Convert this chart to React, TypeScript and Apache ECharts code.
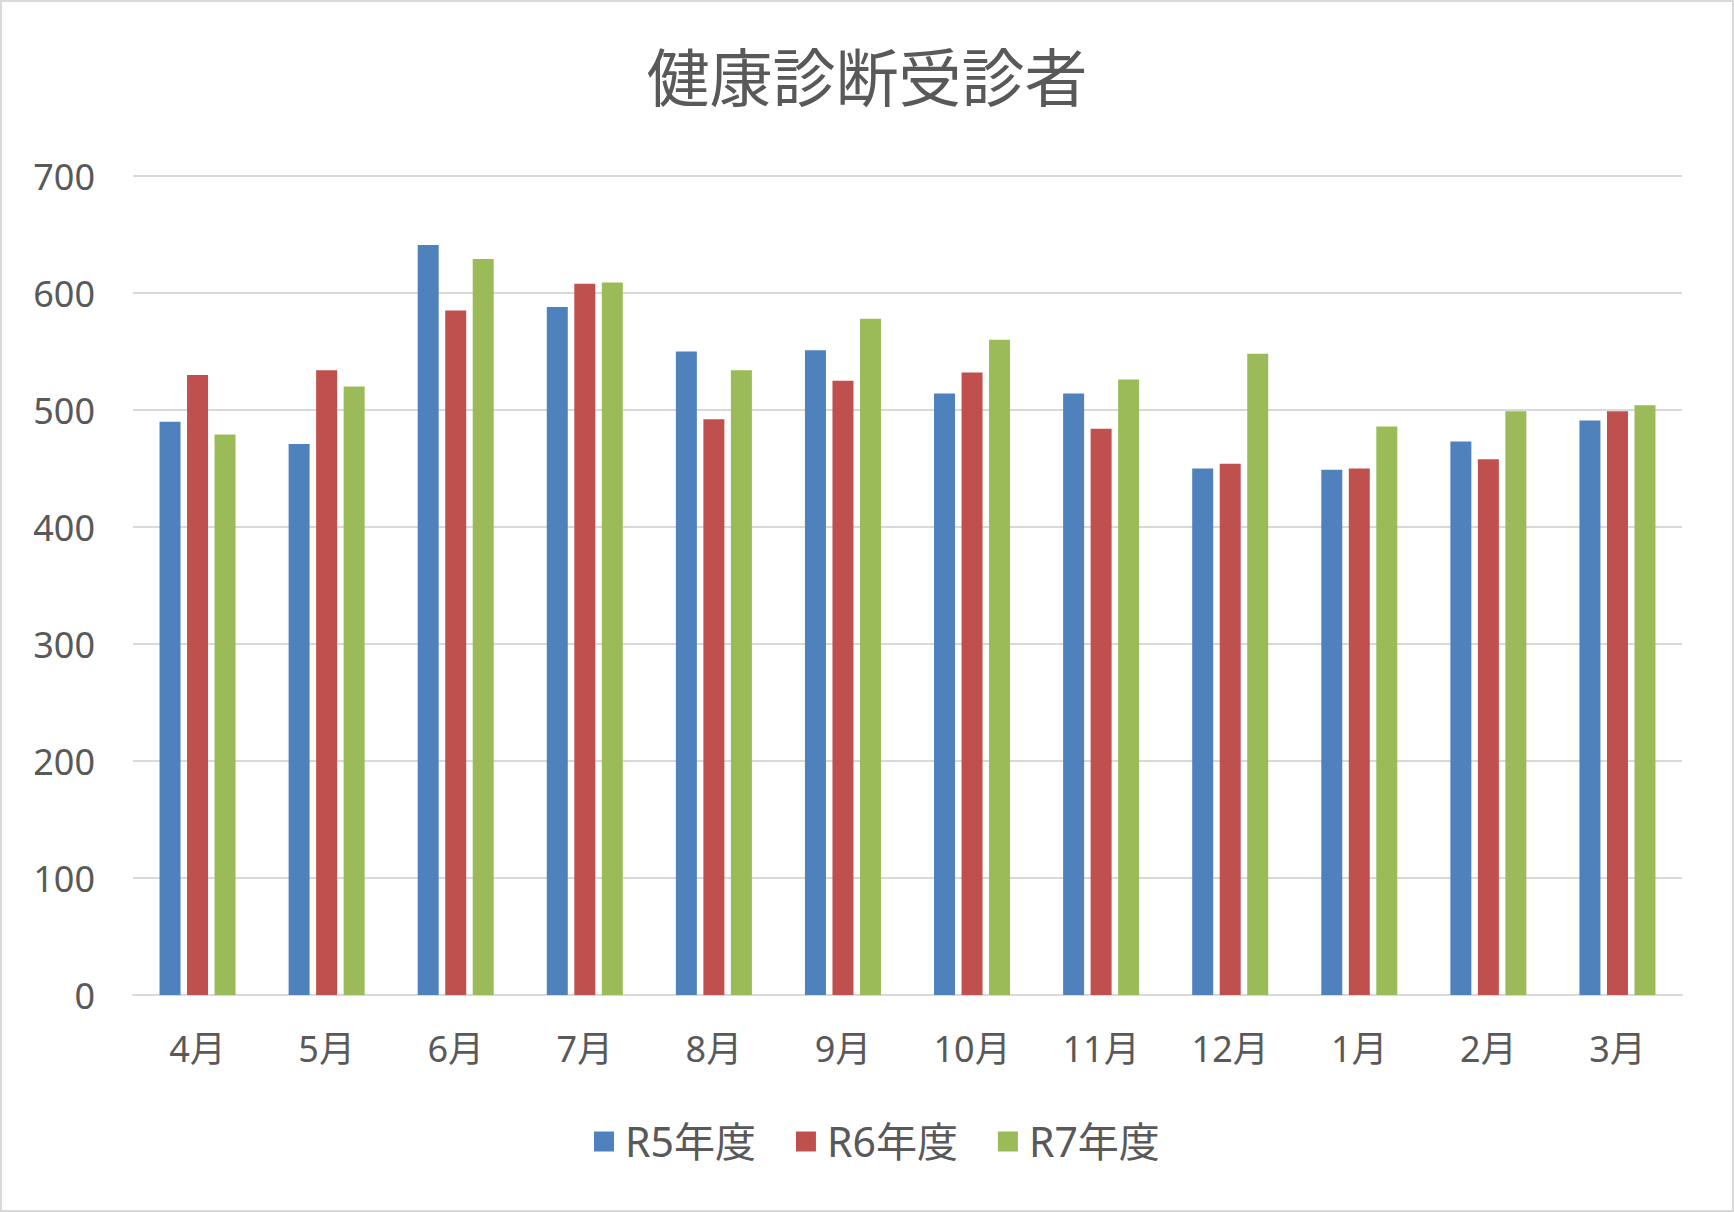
import React, { useEffect, useRef } from "react";
import * as echarts from "echarts";

const categories = ["4月", "5月", "6月", "7月", "8月", "9月", "10月", "11月", "12月", "1月", "2月", "3月"];
const seriesNames = ["R5年度", "R6年度", "R7年度"];
const r5 = [490, 471, 641, 588, 550, 551, 514, 514, 450, 449, 473, 491];
const r6 = [530, 534, 585, 608, 492, 525, 532, 484, 454, 450, 458, 499];
const r7 = [479, 520, 629, 609, 534, 578, 560, 526, 548, 486, 499, 504];
const colors = ["#4F81BD", "#C0504D", "#9BBB59"];
const title = "健康診断受診者";

const FONT = "'Noto Sans', 'Noto Sans CJK JP', sans-serif";
const TEXT = "#595959";

export default function App() {
  const ref = useRef<HTMLDivElement>(null);
  useEffect(() => {
    document.body.style.margin = "0";
    const chart = echarts.init(ref.current!, null, { renderer: "svg" });
    const data = [r5, r6, r7];
    chart.setOption({
      animation: false,
      backgroundColor: "#ffffff",
      textStyle: { fontFamily: FONT, color: TEXT },
      title: {
        text: title,
        left: "center",
        top: 40,
        textStyle: { fontFamily: FONT, fontSize: 63, fontWeight: "normal", color: TEXT },
      },
      legend: {
        data: seriesNames,
        left: 589,
        top: 1116,
        itemWidth: 20,
        itemHeight: 20,
        itemGap: 40,
        icon: "rect",
        textStyle: { fontFamily: FONT, fontSize: 41, color: TEXT, padding: [0, 0, 0, 6] },
      },
      grid: { left: 133, right: 52, top: 176, bottom: 217, containLabel: false },
      xAxis: {
        type: "category",
        data: categories,
        axisLine: { show: true, lineStyle: { color: "#D9D9D9", width: 2 } },
        axisTick: { show: false },
        axisLabel: { fontFamily: FONT, fontSize: 36, color: TEXT, margin: 35 },
      },
      yAxis: {
        type: "value",
        min: 0,
        max: 700,
        interval: 100,
        axisLine: { show: false },
        axisTick: { show: false },
        splitLine: { lineStyle: { color: "#D9D9D9", width: 2 } },
        axisLabel: { fontFamily: FONT, fontSize: 36, color: TEXT, margin: 38 },
      },
      series: seriesNames.map((name, i) => ({
        name,
        type: "bar",
        data: data[i],
        barWidth: 21,
        barGap: "31%",
        itemStyle: { color: colors[i] },
      })),
      graphic: [
        {
          type: "rect",
          shape: { x: 1, y: 1, width: 1732, height: 1210 },
          style: { fill: "none", stroke: "#D9D9D9", lineWidth: 2 },
          silent: true,
        },
      ],
    });
    return () => chart.dispose();
  }, []);
  return <div ref={ref} style={{ position: "absolute", left: 0, top: 0, width: 1734, height: 1212 }} />;
}
